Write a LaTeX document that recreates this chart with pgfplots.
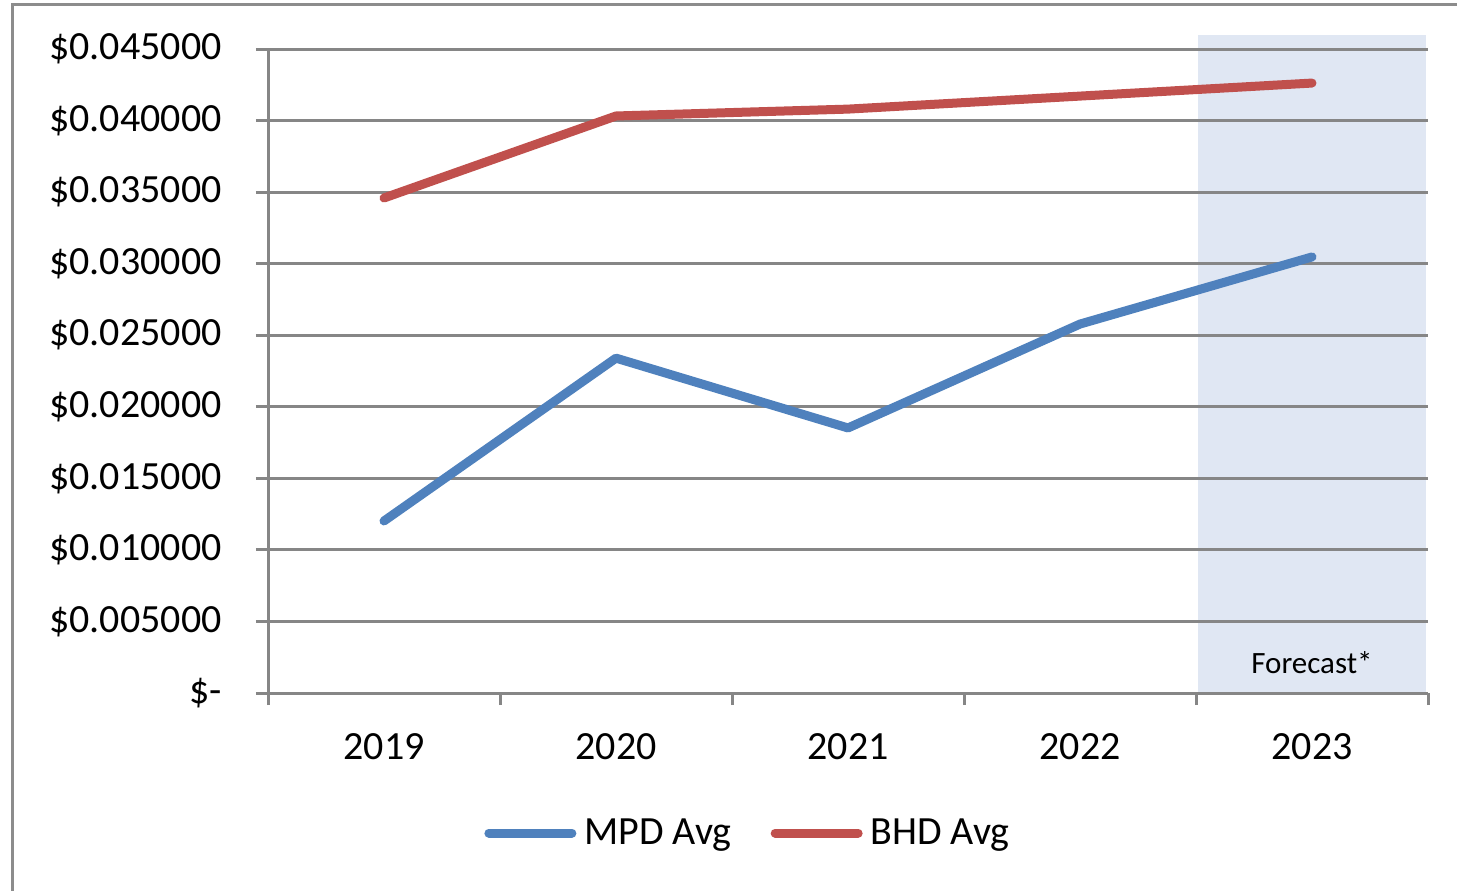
\documentclass[border=0pt]{standalone}
\usepackage{fontspec}
\setmainfont{Carlito}
\usepackage{pgfplots}
\pgfplotsset{compat=1.18}

\definecolor{mpd}{HTML}{4F81BD}
\definecolor{bhd}{HTML}{C0504D}
\definecolor{fcast}{HTML}{E0E7F3}
\definecolor{gridgray}{HTML}{868686}
\definecolor{framegray}{HTML}{8C8C8C}

\pgfplotsset{base/.style={
    at={(134pt,98.5pt)}, anchor=south west,
    scale only axis, width=580pt, height=322pt,
    xmin=0.5, xmax=5.5, ymin=0, ymax=0.045,
    scaled y ticks=false, clip=false}}

\begin{document}
\begin{tikzpicture}
\useasboundingbox (0,0) rectangle (728.5pt,445pt);
\draw[framegray, line width=1.5pt] (6pt,-5pt) -- (6pt,442.5pt) -- (740pt,442.5pt);

% forecast band, under the grid
\begin{axis}[base, hide axis]
\addplot[fill=fcast, draw=none]
    coordinates {(4.51,0) (5.49,0) (5.49,0.046) (4.51,0.046)} -- cycle;
\end{axis}

\begin{axis}[
    base,
    axis x line=bottom, axis y line=left,
    axis line style={gridgray, line width=1.5pt, -},
    ymajorgrids, grid style={gridgray, line width=1.5pt},
    tick align=outside, major tick length=6pt, minor tick length=6pt,
    tick style={gridgray, line width=1.5pt},
    xtick={1,2,3,4,5},
    xticklabels={2019,2020,2021,2022,2023},
    minor xtick={0.5,1.5,2.5,3.5,4.5,5.5},
    major x tick style={draw=none},
    ytick={0,0.005,0.01,0.015,0.02,0.025,0.03,0.035,0.04,0.045},
    yticklabels={\$-\hspace{9pt},\$0.005000,\$0.010000,\$0.015000,\$0.020000,\$0.025000,\$0.030000,\$0.035000,\$0.040000,\$0.045000},
    tick label style={font=\fontsize{20}{24}\selectfont, black},
    yticklabel style={anchor=east, inner sep=0pt, xshift=-17pt},
    xticklabel style={anchor=base, inner sep=0pt, yshift=-27pt},
    legend style={at={(0.413,-0.2174)}, anchor=center, draw=none, fill=none,
        legend columns=2, font=\fontsize{20}{24}\selectfont,
        nodes={inner sep=0pt},
        /tikz/every odd column/.append style={column sep=4pt},
        /tikz/every even column/.append style={column sep=19.5pt}},
    legend image code/.code={\draw[#1, line cap=round] (0pt,0pt) -- (41.5pt,0pt);},
]
\addplot[mpd, line width=4.5pt, line cap=round, line join=round]
    coordinates {(1,0.01202) (2,0.02340) (3,0.01852) (4,0.02578) (5,0.03047)};
\addlegendentry{MPD Avg}
\addplot[bhd, line width=4.5pt, line cap=round, line join=round]
    coordinates {(1,0.03459) (2,0.04032) (3,0.04080) (4,0.04171) (5,0.04262)};
\addlegendentry{BHD Avg}

\node[font=\fontsize{15.5}{18}\selectfont] at (axis cs:5,0.0021) {Forecast*};
\end{axis}
\end{tikzpicture}
\end{document}
